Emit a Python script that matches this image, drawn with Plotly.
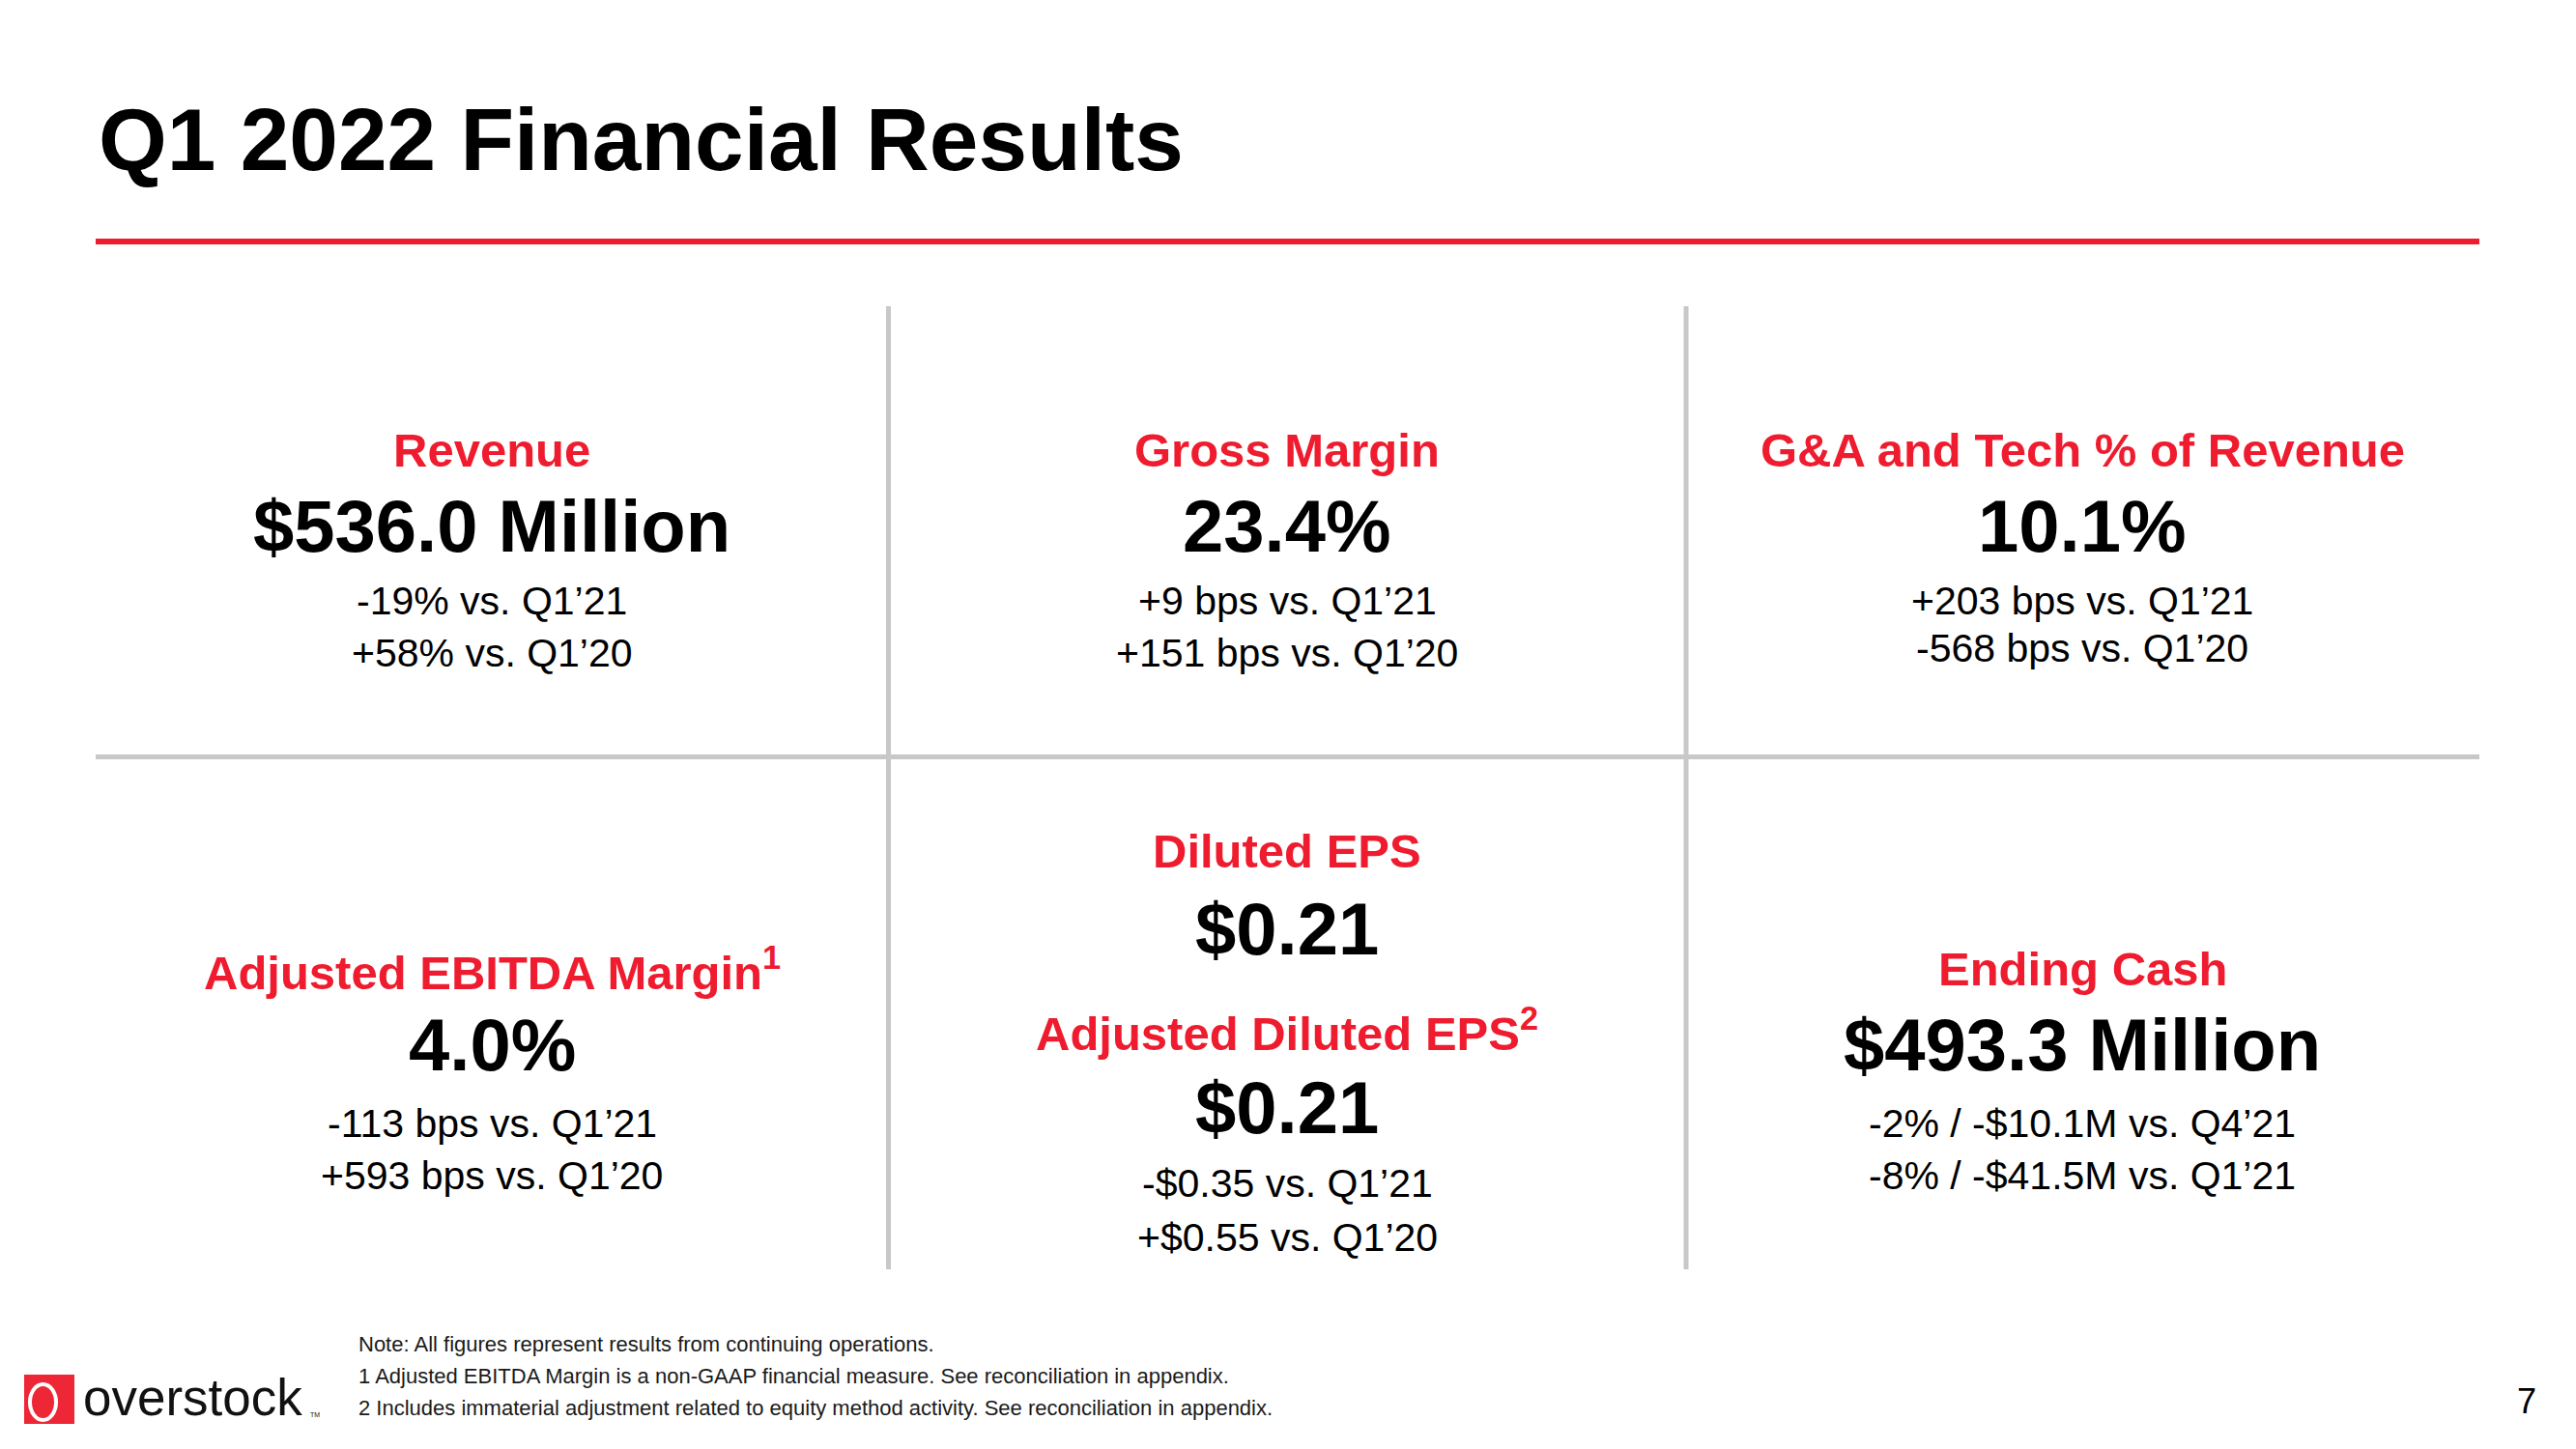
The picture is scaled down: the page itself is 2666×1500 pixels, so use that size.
import plotly.graph_objects as go

# ---------------- data ----------------
title_text = "Q1 2022 Financial Results"

# top row panels
top_names = ["Revenue", "Gross Margin", "G&A and Tech % of Revenue"]
top_values = ["$536.0 Million", "23.4%", "10.1%"]
top_vs_q1_21 = ["-19% vs. Q1’21", "+9 bps vs. Q1’21", "+203 bps vs. Q1’21"]
top_vs_q1_20 = ["+58% vs. Q1’20", "+151 bps vs. Q1’20", "-568 bps vs. Q1’20"]

# bottom row, outer panels
bot_names = ["Adjusted EBITDA Margin<sup>1</sup>", "Ending Cash"]
bot_values = ["4.0%", "$493.3 Million"]
bot_line1 = ["-113 bps vs. Q1’21", "-2% / -$10.1M vs. Q4’21"]
bot_line2 = ["+593 bps vs. Q1’20", "-8% / -$41.5M vs. Q1’21"]

# bottom row, middle panel (EPS)
eps_names = ["Diluted EPS", "Adjusted Diluted EPS<sup>2</sup>"]
eps_values = ["$0.21", "$0.21"]
eps_lines = ["-$0.35 vs. Q1’21", "+$0.55 vs. Q1’20"]

footnotes = [
    "Note: All figures represent results from continuing operations.",
    "1 Adjusted EBITDA Margin is a non-GAAP financial measure. See reconciliation in appendix.",
    "2 Includes immaterial adjustment related to equity method activity. See reconciliation in appendix.",
]
page_number = "7"
logo_text = "overstock"

# ---------------- styling / layout ----------------
W, H = 2666, 1500
RED = "#EE1C2E"
GREY = "#C8C8C8"
FONT = "Liberation Sans, Arial, Helvetica, sans-serif"
col_x = [509, 1332, 2155]

HEAD_SIZE = 49
VAL_SIZE = 76
SUB_SIZE = 41

fig = go.Figure()
ann = []


def add_text(x, y, text, size, color="#000000", bold=False, xanchor="center"):
    ann.append(dict(
        x=x, y=y, xref="x", yref="y", text=f"<b>{text}</b>" if bold else text,
        showarrow=False, xanchor=xanchor, yanchor="middle",
        font=dict(family=FONT, size=size, color=color),
    ))


# title
add_text(100, 144, title_text, 91, bold=True, xanchor="left")

# top row
for i in range(3):
    add_text(col_x[i], 466, top_names[i], HEAD_SIZE, RED, bold=True)
    add_text(col_x[i], 544, top_values[i], VAL_SIZE, bold=True)
    add_text(col_x[i], 622, top_vs_q1_21[i], SUB_SIZE)
    add_text(col_x[i], 676 if i < 2 else 671, top_vs_q1_20[i], SUB_SIZE)

# bottom row outer panels
for j, i in enumerate([0, 2]):
    add_text(col_x[i], 1003, bot_names[j], HEAD_SIZE, RED, bold=True)
    add_text(col_x[i], 1081, bot_values[j], VAL_SIZE, bold=True)
    add_text(col_x[i], 1163, bot_line1[j], SUB_SIZE)
    add_text(col_x[i], 1217, bot_line2[j], SUB_SIZE)

# EPS panel
add_text(col_x[1], 881, eps_names[0], HEAD_SIZE, RED, bold=True)
add_text(col_x[1], 961, eps_values[0], VAL_SIZE, bold=True)
add_text(col_x[1], 1066, eps_names[1], HEAD_SIZE, RED, bold=True)
add_text(col_x[1], 1146, eps_values[1], VAL_SIZE, bold=True)
add_text(col_x[1], 1225, eps_lines[0], SUB_SIZE)
add_text(col_x[1], 1281, eps_lines[1], SUB_SIZE)

# footnotes
for fy, t in zip([1391, 1424, 1457], footnotes):
    add_text(369, fy, t, 22, "#1a1a1a", xanchor="left")

# page number
add_text(2615, 1450, page_number, 36)

# logo text
add_text(84, 1446, logo_text, 53, "#111111", xanchor="left")
add_text(319, 1464, "TM", 7, "#111111", xanchor="left")

shapes = [
    # red rule under title
    dict(type="rect", x0=99, x1=2566, y0=247, y1=253, fillcolor=RED, line_width=0),
    # grid lines
    dict(type="line", x0=919.5, x1=919.5, y0=317, y1=1314, line=dict(color=GREY, width=5)),
    dict(type="line", x0=1745, x1=1745, y0=317, y1=1314, line=dict(color=GREY, width=5)),
    dict(type="line", x0=99, x1=2566, y0=783.5, y1=783.5, line=dict(color=GREY, width=5)),
    # logo mark
    dict(type="rect", x0=25, x1=77, y0=1423, y1=1474, fillcolor="#EE2737", line_width=0),
    dict(type="circle", x0=31, x1=58, y0=1433, y1=1470, fillcolor="rgba(0,0,0,0)",
         line=dict(color="white", width=4)),
]

fig.update_layout(
    width=W, height=H,
    margin=dict(l=0, r=0, t=0, b=0),
    paper_bgcolor="white", plot_bgcolor="white",
    xaxis=dict(range=[0, W], visible=False, fixedrange=True),
    yaxis=dict(range=[H, 0], visible=False, fixedrange=True),
    showlegend=False,
    annotations=ann,
    shapes=shapes,
)

fig.write_html(
    "out.html",
    config={"displayModeBar": False},
    post_script="document.body.style.margin='0px'; document.body.style.overflow='hidden';",
)
